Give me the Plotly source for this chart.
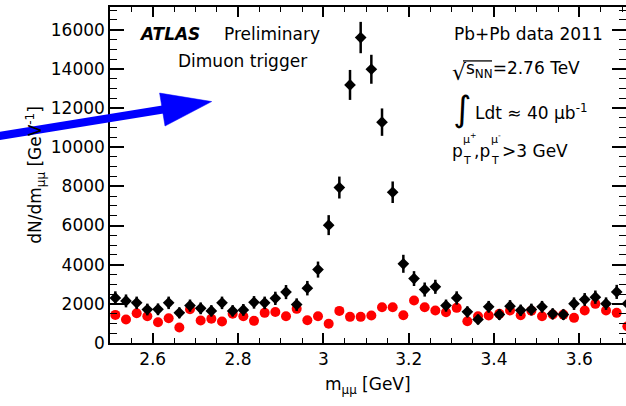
import plotly.graph_objects as go

# Dimuon invariant-mass bins (GeV), 25 MeV wide
mass = [2.5125, 2.5375, 2.5625, 2.5875, 2.6125, 2.6375, 2.6625, 2.6875, 2.7125, 2.7375,
        2.7625, 2.7875, 2.8125, 2.8375, 2.8625, 2.8875, 2.9125, 2.9375, 2.9625, 2.9875,
        3.0125, 3.0375, 3.0625, 3.0875, 3.1125, 3.1375, 3.1625, 3.1875, 3.2125, 3.2375,
        3.2625, 3.2875, 3.3125, 3.3375, 3.3625, 3.3875, 3.4125, 3.4375, 3.4625, 3.4875,
        3.5125, 3.5375, 3.5625, 3.5875, 3.6125, 3.6375, 3.6625, 3.6875, 3.7125]

# opposite-sign pairs dN/dm (GeV^-1) with statistical errors
opposite_sign = [2300, 2150, 2050, 1710, 1720, 2050, 1540, 1910, 1770, 1640,
                 2050, 1640, 1690, 2075, 2050, 2280, 2600, 1960, 2800, 3750,
                 6020, 7940, 13180, 15600, 13980, 11280, 7700, 4045, 3290, 2730,
                 2870, 1910, 2300, 1590, 1200, 1850, 1450, 1880, 1670, 1710,
                 1850, 1490, 1450, 2010, 2220, 2340, 2010, 2610, 2010]
opposite_sign_err = [340, 330, 320, 300, 300, 320, 280, 310, 300, 290,
                     320, 290, 300, 320, 320, 340, 360, 320, 370, 410,
                     510, 560, 765, 800, 740, 700, 550, 460, 380, 360,
                     360, 310, 340, 280, 250, 300, 270, 310, 290, 300,
                     300, 280, 270, 320, 330, 340, 320, 360, 320]

# same-sign pairs dN/dm (GeV^-1)
same_sign = [1435, 1200, 1520, 1367, 1061, 1265, 790, 1725, 1147, 1240,
             1095, 1495, 1367, 1130, 1540, 1580, 1367, 1743, 1163, 1367,
             980, 1640, 1336, 1336, 1402, 1826, 1826, 1418, 2167, 1826,
             1657, 1571, 1795, 1112, 1367, 1402, 1489, 1657, 1418, 1650,
             1367, 1453, 1450, 1285, 1657, 1999, 1657, 1540, 857]

W, H = 626, 406
L, R, T, B = 110, 0, 7, 62.5
FONT = "DejaVu Sans"


def px(x):
    return (x - L) / (W - L - R)


def py(y):
    return (H - B - y) / (H - T - B)


fig = go.Figure()
fig.add_trace(go.Scatter(
    x=mass, y=same_sign, mode="markers",
    marker=dict(symbol="circle", size=10, color="#ff0000"),
    showlegend=False))
fig.add_trace(go.Scatter(
    x=mass, y=opposite_sign, mode="markers",
    marker=dict(symbol="diamond", size=9, color="black"),
    error_y=dict(type="data", array=opposite_sign_err, color="black", thickness=2.5, width=0),
    showlegend=False))

axis_common = dict(
    showgrid=False, zeroline=False, showline=True, linecolor="black", linewidth=1.5,
    mirror="ticks", ticks="inside", tickcolor="black", tickwidth=1.5,
    tickfont=dict(family=FONT, size=17, color="black"))

fig.update_xaxes(range=[2.5, 3.7093], dtick=0.2, tick0=2.6, ticklen=10,
                 minor=dict(dtick=0.05, tick0=2.5, ticks="inside", ticklen=5,
                            tickcolor="black", tickwidth=1.2),
                 **axis_common)
fig.update_yaxes(range=[0, 17160], dtick=2000, tick0=0, ticklen=14, tickformat="d",
                 minor=dict(dtick=500, tick0=0, ticks="inside", ticklen=7,
                            tickcolor="black", tickwidth=1.2),
                 **axis_common)

annotations = []


def label(text, x, base, size=17, anchor="left", **kw):
    annotations.append(dict(
        text=text, x=px(x), y=py(base - 0.346 * size), xref="paper", yref="paper",
        xanchor=anchor, yanchor="middle", showarrow=False,
        font=dict(family=FONT, size=size, color="black"), **kw))


label("<b><i>ATLAS</i></b>", 137, 40)
label("Preliminary", 222, 40)
label("Dimuon trigger", 176, 67)
label("Pb+Pb data 2011", 452, 40)
label("√", 450, 80, size=22)
label("s<sub>NN</sub>=2.76 TeV", 464, 75)
label("∫", 451, 121, size=35)
label("Ldt ≈ 40 μb<sup>-1</sup>", 473, 118)
label("p", 450, 157)
label("μ<sup>+</sup>", 461, 143, size=11)
label("T", 460.5, 165, size=11)
label(",p", 472, 157)
label("μ<sup>-</sup>", 489, 143, size=11)
label("T", 489, 165, size=11)
label(">3 GeV", 500, 157)
label("m<sub>μμ</sub> [GeV]", 368, 392, anchor="center")
annotations.append(dict(
    text="dN/dm<sub>μμ</sub> [GeV<sup>-1</sup>]", x=px(36), y=py(175), xref="paper", yref="paper",
    xanchor="center", yanchor="middle", textangle=-90, showarrow=False,
    font=dict(family=FONT, size=17, color="black")))

# overline of the square root and the blue pointer arrow
shapes = [
    dict(type="line", xref="paper", yref="paper", x0=px(463), x1=px(492), y0=py(61), y1=py(61),
         line=dict(color="black", width=1.3)),
    dict(type="line", xref="paper", yref="paper", x0=px(-12), y0=py(138), x1=px(166), y1=py(109.2),
         line=dict(color="#0000ff", width=8)),
    dict(type="path", xref="paper", yref="paper",
         path=f"M{px(211.7)},{py(101.7)} L{px(159.6)},{py(93.2)} L{px(165)},{py(126.2)} Z",
         fillcolor="#0000ff", line=dict(color="#0000ff", width=0.5)),
]

fig.update_layout(
    width=W, height=H, margin=dict(l=L, r=R, t=T, b=B, autoexpand=False),
    paper_bgcolor="white", plot_bgcolor="white",
    font=dict(family=FONT, color="black"),
    annotations=annotations, shapes=shapes)

fig.write_html("out.html")
